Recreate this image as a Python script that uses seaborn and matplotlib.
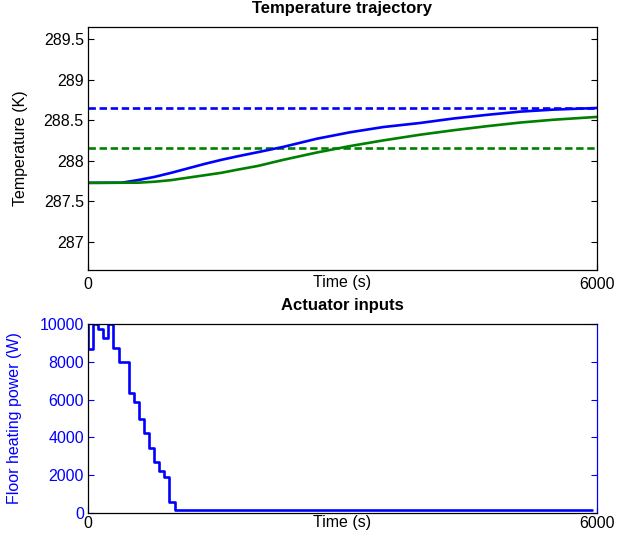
import matplotlib
matplotlib.use("Agg")
import matplotlib.pyplot as plt
import seaborn as sns
import numpy as np
import pandas as pd

# ---- data ----
t_temp_b = [0, 400, 589, 786, 982, 1179, 1376, 1572, 1769, 2004, 2302, 2695, 3088, 3481, 3914,
            4306, 4699, 5092, 5485, 6000]
temp_blue = [287.726, 287.728, 287.76, 287.80, 287.85, 287.905, 287.96, 288.01, 288.055, 288.105,
             288.17, 288.27, 288.35, 288.415, 288.465, 288.52, 288.565, 288.605, 288.63, 288.65]
t_temp_g = [0, 589, 786, 982, 1179, 1376, 1572, 1769, 2004, 2302, 2695, 3088, 3481, 3914, 4306,
            4699, 5092, 5485, 6000]
temp_green = [287.726, 287.728, 287.74, 287.76, 287.79, 287.82, 287.85, 287.89, 287.935, 288.01,
              288.10, 288.18, 288.25, 288.32, 288.375, 288.425, 288.47, 288.505, 288.54]
setpoint_blue = 288.65
setpoint_green = 288.15

t_power = [0, 0, 60, 120, 180, 240, 300, 360, 420, 480, 540, 600, 660, 720, 780, 840, 900, 960,
           1020, 1500, 3000, 4500, 5940]
power = [10000, 8700, 10000, 9750, 9250, 10000, 8750, 8000, 8000, 6350, 5850, 5000, 4250, 3450,
         2700, 2200, 1900, 600, 175, 170, 165, 160, 160]

xticks = [0, 6000]
temp_yticks = [287, 287.5, 288, 288.5, 289, 289.5]
temp_yticklabels = ["287", "287.5", "288", "288.5", "289", "289.5"]
power_yticks = [0, 2000, 4000, 6000, 8000, 10000]

BLUE = (0, 0, 1)
GREEN = (0, 0.5, 0)

sns.set_style("ticks")
plt.rcParams["font.family"] = ["Liberation Sans", "DejaVu Sans"]
plt.rcParams["font.size"] = 11.5
plt.rcParams["text.color"] = "black"
plt.rcParams["axes.labelcolor"] = "black"
plt.rcParams["xtick.color"] = "black"
plt.rcParams["ytick.color"] = "black"

fig = plt.figure(figsize=(6.43, 5.41), dpi=100)
ax1 = fig.add_axes([88 / 643, 1 - 270 / 541, 509 / 643, 243 / 541])
ax2 = fig.add_axes([88 / 643, 1 - 513 / 541, 509 / 643, 189 / 541])

LW = 1.9
DASH = (0, (2.8, 1.4))

# ---- top plot ----
df_b = pd.DataFrame({"t": t_temp_b, "T": temp_blue})
df_g = pd.DataFrame({"t": t_temp_g, "T": temp_green})
ax1.axhline(setpoint_blue, color=BLUE, lw=LW, ls=DASH)
ax1.axhline(setpoint_green, color=GREEN, lw=LW, ls=DASH)
sns.lineplot(data=df_b, x="t", y="T", ax=ax1, color=BLUE, lw=LW, estimator=None, sort=False)
sns.lineplot(data=df_g, x="t", y="T", ax=ax1, color=GREEN, lw=LW, estimator=None, sort=False)
ax1.set_xlim(0, 6000)
ax1.set_ylim(286.65, 289.65)
ax1.set_xticks(xticks)
ax1.set_xticklabels([str(v) for v in xticks])
ax1.set_yticks(temp_yticks)
ax1.set_yticklabels(temp_yticklabels)
ax1.set_xlabel("Time (s)")
ax1.set_ylabel("Temperature (K)")
ax1.xaxis.set_label_coords(0.5, -13 / 243)
ax1.xaxis.label.set_va("center")
ax1.yaxis.set_label_coords(-60 / 509, 0.5)
ax1.tick_params(direction="in", length=4, width=0.8, right=True, top=False, labelsize=11.5, pad=3,
                colors="black")
ax1.tick_params(axis="x", pad=5)
for s in ax1.spines.values():
    s.set_visible(True)
    s.set_linewidth(0.9)
    s.set_color("black")
ax1.text(0.5, 1 + 19 / 243, "Temperature trajectory", transform=ax1.transAxes, ha="center",
         va="center", fontsize=12, fontweight="bold", color="black")

# ---- bottom plot ----
df_p = pd.DataFrame({"t": t_power, "P": power})
sns.lineplot(data=df_p, x="t", y="P", ax=ax2, color=BLUE, lw=LW, estimator=None, sort=False,
             drawstyle="steps-post")
ax2.set_xlim(0, 6000)
ax2.set_ylim(0, 10000)
ax2.set_xticks(xticks)
ax2.set_xticklabels([str(v) for v in xticks])
ax2.set_yticks(power_yticks)
ax2.set_yticklabels([str(v) for v in power_yticks])
ax2.set_xlabel("Time (s)")
ax2.set_ylabel("Floor heating power (W)", color=BLUE)
ax2.xaxis.set_label_coords(0.5, -10 / 189)
ax2.xaxis.label.set_va("center")
ax2.yaxis.set_label_coords(-66 / 509, 0.5)
ax2.tick_params(direction="in", length=4, width=0.8, right=True, top=False, labelsize=11.5, pad=3)
ax2.tick_params(axis="y", colors=BLUE, labelcolor=BLUE)
ax2.tick_params(axis="x", colors="black", pad=2)
for s in ax2.spines.values():
    s.set_visible(True)
    s.set_linewidth(0.9)
    s.set_color("black")
ax2.spines["right"].set_color(BLUE)
ax2.text(0.5, 1 + 19 / 189, "Actuator inputs", transform=ax2.transAxes, ha="center",
         va="center", fontsize=12, fontweight="bold", color="black")

fig.savefig("out.png", dpi=100)
